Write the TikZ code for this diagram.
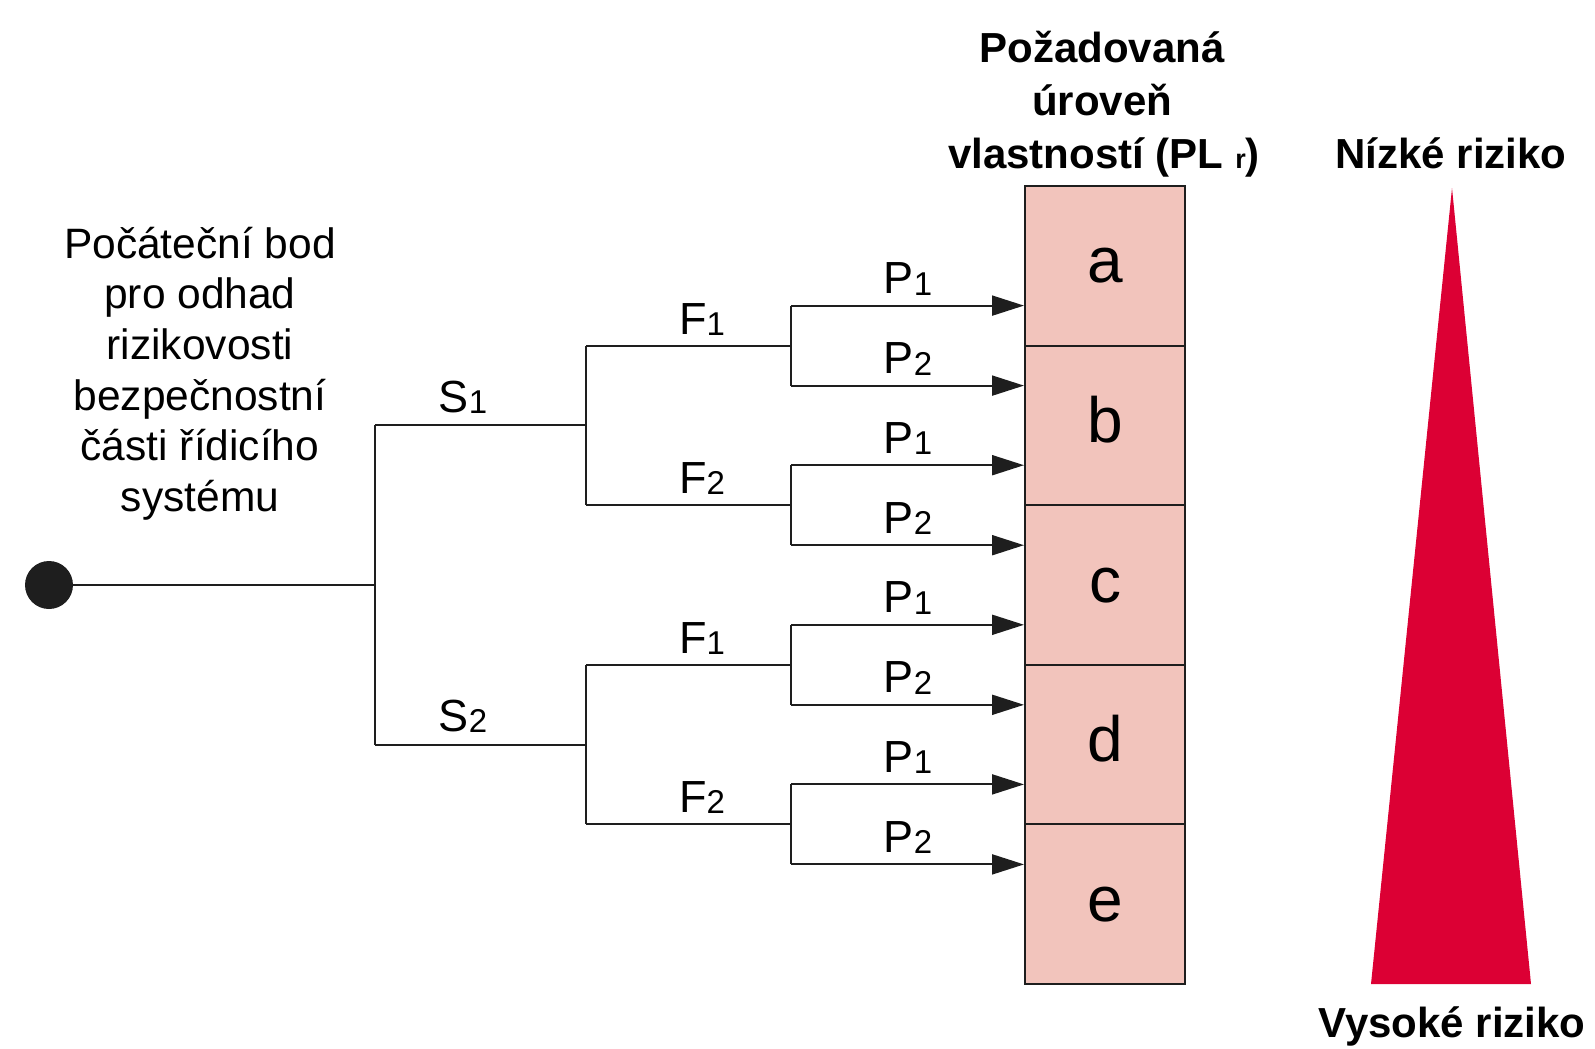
\documentclass[tikz,border=0pt]{standalone}
\usepackage{fontspec}
\setmainfont{Liberation Sans}
\usetikzlibrary{arrows.meta}
\definecolor{cellpink}{RGB}{242,196,188}
\definecolor{riskred}{RGB}{220,0,52}
\definecolor{ink}{RGB}{30,30,30}
% small index digit set slightly below the baseline
\newcommand{\idx}[1]{\raisebox{-1.5pt}{\fontsize{33}{33}\selectfont #1}}

\begin{document}
\begin{tikzpicture}[x=1pt,y=-1pt,
  wire/.style={draw=ink, line width=2pt},
  arr/.style={wire, -{Triangle[length=32pt,width=20pt]}},
  cell/.style={draw=ink, line width=2pt, fill=cellpink, minimum width=160pt,
    minimum height=159.6pt, inner sep=0pt, text height=34pt, text depth=0pt,
    font=\fontsize{64}{64}\selectfont},
  lbl/.style={anchor=base, inner sep=0pt, font=\fontsize{45}{45}\selectfont},
  txt/.style={anchor=base, inner sep=0pt, font=\fontsize{42.5}{42.5}\selectfont},
  head/.style={anchor=base, inner sep=0pt, font=\bfseries\fontsize{42}{42}\selectfont}]

\useasboundingbox (0,0) rectangle (1595,1049);

% performance level column
\foreach \n/\y in {a/265.8, b/425.4, c/585, d/744.6, e/904.2}
  \node[cell] (\n) at (1105,\y) {\n};

% risk wedge
\fill[riskred] (1452,188) -- (1531,984) -- (1371,984) -- cycle;

% starting point and tree
\node[circle, fill=ink, minimum size=48pt, inner sep=0pt] (start) at (49,585) {};
\coordinate (root) at (375,585);
\coordinate (s1) at (375,425.4);
\coordinate (s2) at (375,744.6);
\coordinate (s1e) at (586,425.4);
\coordinate (s2e) at (586,744.6);
\coordinate (f11) at (586,345.6);
\coordinate (f12) at (586,505.2);
\coordinate (f21) at (586,664.8);
\coordinate (f22) at (586,824.4);

\draw[wire] (start) -- (root);
\draw[wire] (s1) -- (s2);
\draw[wire] (s1) -- (s1e);
\draw[wire] (s2) -- (s2e);
\draw[wire] (f11) -- (f12);
\draw[wire] (f21) -- (f22);

\foreach \f/\yy in {f11/345.6, f12/505.2, f21/664.8, f22/824.4} {
  \coordinate (\f-e) at (791,\yy);
  \coordinate (\f-u) at (791,\yy-40);
  \coordinate (\f-d) at (791,\yy+40);
  \draw[wire] (\f) -- (\f-e);
  \draw[wire] (\f-u) -- (\f-d);
  \draw[arr] (\f-u) -- (\f-u -| a.west);
  \draw[arr] (\f-d) -- (\f-d -| a.west);
}

% branch labels
\node[lbl] (ls1) at (463,412) {S\idx{1}};
\node[lbl] (ls2) at (463,731) {S\idx{2}};
\node[lbl] (lf11) at (702,334) {F\idx{1}};
\node[lbl] (lf12) at (702,493) {F\idx{2}};
\node[lbl] (lf21) at (702,653) {F\idx{1}};
\node[lbl] (lf22) at (702,812) {F\idx{2}};
\foreach \k/\yy/\d in {1/293.6/1, 2/373.6/2, 3/453.2/1, 4/533.2/2,
                       5/612.8/1, 6/692.8/2, 7/772.4/1, 8/852.4/2}
  \node[lbl] (lp\k) at (908,\yy) {P\idx{\d}};

% description of the starting point
\foreach \k/\t in {0/Počáteční bod, 1/pro odhad, 2/rizikovosti,
                   3/bezpečnostní, 4/části řídicího, 5/systému}
  \node[txt] (intro\k) at (200,258+50.7*\k) {\t};

% headings
\node[head] (h1) at (1102,63) {Požadovaná};
\node[head] (h2) at (1102,115.5) {úroveň};
\node[head] (h3) at (1104,168) {vlastností (PL {\fontsize{27}{27}\selectfont r})};
\node[head] (low) at (1451,168) {Nízké riziko};
\node[head] (high) at (1452,1037) {Vysoké riziko};
\end{tikzpicture}
\end{document}
